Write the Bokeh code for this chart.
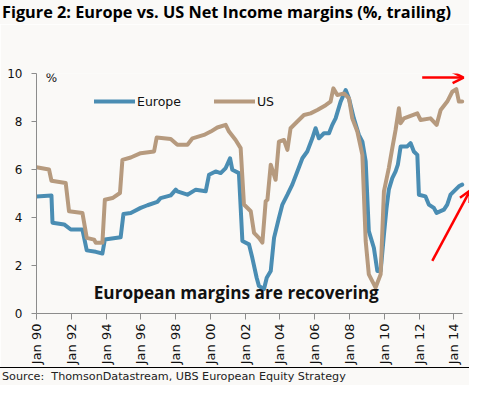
import math
from bokeh.plotting import figure
from bokeh.layouts import column
from bokeh.models import (Range1d, FixedTicker, Label, Legend, LegendItem,
                          Arrow, OpenHead, Div)
from bokeh.embed import file_html
from bokeh.resources import INLINE

# ---------------- data (decimal years, % margin) ----------------
europe_x = [1990.0, 1990.86, 1990.92, 1991.59, 1991.97, 1992.64, 1992.89, 1993.41, 1993.79,
            1993.93, 1994.84, 1995.0, 1995.42, 1995.99, 1996.38, 1996.95, 1997.14, 1997.72,
            1998.01, 1998.10, 1998.68, 1999.16, 1999.73, 1999.92, 2000.30, 2000.59, 2000.88,
            2001.13, 2001.26, 2001.64, 2001.84, 2002.22, 2002.41, 2002.66, 2002.79, 2003.08,
            2003.24, 2003.47, 2003.66, 2003.94, 2004.14, 2004.43, 2004.71, 2005.00, 2005.29,
            2005.57, 2005.86, 2006.05, 2006.24, 2006.53, 2006.82, 2007.01, 2007.20, 2007.49,
            2007.78, 2007.97, 2008.25, 2008.54, 2008.74, 2008.93, 2009.11, 2009.40, 2009.60,
            2009.79, 2009.98, 2010.13, 2010.26, 2010.46, 2010.65, 2010.78, 2010.94, 2011.32,
            2011.51, 2011.70, 2011.90, 2011.99, 2012.37, 2012.56, 2012.85, 2013.01, 2013.43,
            2013.62, 2013.81, 2014.10, 2014.29, 2014.48]
europe_y = [4.88, 4.92, 3.78, 3.71, 3.50, 3.50, 2.63, 2.57, 2.50,
            3.08, 3.18, 4.15, 4.19, 4.40, 4.51, 4.65, 4.81, 4.92,
            5.16, 5.09, 4.95, 5.16, 5.09, 5.78, 5.92, 5.85, 6.06,
            6.47, 5.99, 5.85, 3.02, 2.88, 2.32, 1.49, 1.15, 1.01,
            1.49, 1.77, 3.15, 3.98, 4.54, 4.95, 5.37, 5.92, 6.47,
            6.75, 7.30, 7.72, 7.30, 7.51, 7.51, 7.86, 8.13, 8.83,
            9.31, 8.96, 8.13, 7.44, 7.16, 6.34, 3.43, 2.74, 1.77,
            1.77, 3.29, 4.40, 5.16, 5.64, 5.92, 6.20, 6.96, 6.96,
            7.10, 6.75, 6.61, 4.95, 4.88, 4.54, 4.40, 4.19, 4.33,
            4.54, 4.95, 5.16, 5.30, 5.37]

us_x = [1990.0, 1990.72, 1990.86, 1991.68, 1991.87, 1992.64, 1992.89, 1993.31, 1993.41,
        1993.79, 1993.93, 1994.37, 1994.80, 1994.94, 1995.42, 1995.99, 1996.76, 1996.91,
        1997.72, 1998.10, 1998.68, 1998.97, 1999.63, 2000.02, 2000.40, 2000.88, 2001.07,
        2001.45, 2001.74, 2001.93, 2002.32, 2002.51, 2002.79, 2002.99, 2003.18, 2003.28,
        2003.47, 2003.75, 2003.94, 2004.23, 2004.43, 2004.61, 2005.00, 2005.38, 2005.76,
        2006.15, 2006.63, 2006.91, 2007.07, 2007.30, 2007.68, 2007.97, 2008.16, 2008.45,
        2008.74, 2008.93, 2009.11, 2009.50, 2009.79, 2009.98, 2010.26, 2010.46, 2010.65,
        2010.84, 2010.94, 2011.13, 2011.90, 2012.09, 2012.66, 2013.01, 2013.24, 2013.62,
        2013.91, 2014.14, 2014.29, 2014.48]
us_y = [6.09, 6.00, 5.53, 5.44, 4.26, 4.19, 3.15, 3.08, 2.95,
        2.95, 4.74, 4.81, 5.02, 6.40, 6.50, 6.68, 6.75, 7.33,
        7.27, 7.03, 7.03, 7.30, 7.44, 7.58, 7.75, 7.86, 7.58,
        7.23, 6.89, 4.54, 4.26, 3.36, 3.15, 2.95, 4.68, 4.74,
        6.20, 5.57, 7.16, 7.23, 6.82, 7.72, 8.00, 8.27, 8.34,
        8.48, 8.68, 8.83, 9.38, 9.10, 9.17, 8.96, 8.13, 7.58,
        6.61, 3.02, 1.63, 1.08, 1.63, 5.09, 6.06, 6.89, 7.65,
        8.55, 7.93, 8.13, 8.34, 8.06, 8.13, 7.86, 8.48, 8.83,
        9.24, 9.35, 8.83, 8.83]

x_ticks = [1990, 1992, 1994, 1996, 1998, 2000, 2002, 2004, 2006, 2008, 2010, 2012, 2014]
x_tick_labels = ["Jan 90", "Jan 92", "Jan 94", "Jan 96", "Jan 98", "Jan 00", "Jan 02",
                 "Jan 04", "Jan 06", "Jan 08", "Jan 10", "Jan 12", "Jan 14"]
y_ticks = [0, 2, 4, 6, 8, 10]

# annotation arrows: (x_start, y_start, x_end, y_end)
arrow_flat = [2012.18, 9.83, 2014.56, 9.83]
arrow_up = [2012.76, 2.19, 2014.93, 5.12]

TITLE = "Figure 2: Europe vs. US Net Income margins (%, trailing)"
SOURCE = "Source:&nbsp;&nbsp;ThomsonDatastream, UBS European Equity Strategy"
NOTE = "European margins are recovering"

BG = "#FAF9F7"
BLUE = "#4A8DB3"
TAN = "#B69A7E"
W = 469

title_div = Div(text=TITLE, width=W, height=24, margin=0,
                styles={"background-color": BG, "font-family": "Open Sans",
                        "font-weight": "bold", "font-size": "16.3px", "color": "#000000",
                        "line-height": "24px", "padding-left": "2px", "height": "24px",
                        "white-space": "nowrap", "width": f"{W}px", "box-sizing": "border-box"})

p = figure(width=W, height=343, output_backend="svg", toolbar_location=None, title=None,
           x_range=Range1d(1990, 2014.9), y_range=Range1d(0, 10),
           min_border_left=36, min_border_right=0, min_border_top=49, min_border_bottom=54,
           background_fill_color=BG, border_fill_color=BG, outline_line_color=None)
p.grid.visible = False

r_eu = p.line(europe_x, europe_y, line_color=BLUE, line_width=4, line_join="round", line_cap="round")
r_us = p.line(us_x, us_y, line_color=TAN, line_width=4, line_join="round", line_cap="round")

# axes
xa = p.xaxis[0]
xa.bounds = (1990, 2014.48)
xa.ticker = FixedTicker(ticks=x_ticks)
xa.major_label_overrides = {t: l for t, l in zip(x_ticks, x_tick_labels)}
xa.major_label_orientation = math.pi / 2
xa.major_label_text_font = "DejaVu Sans"
xa.major_label_text_font_size = "13px"
xa.major_label_text_color = "#111111"
xa.major_label_standoff = 4
xa.major_tick_out = 6
xa.major_tick_in = 0
xa.minor_tick_out = 0
xa.minor_tick_in = 0
xa.axis_line_color = "#8C8C8C"
xa.major_tick_line_color = "#8C8C8C"

ya = p.yaxis[0]
ya.ticker = FixedTicker(ticks=y_ticks)
ya.major_label_text_font = "DejaVu Sans"
ya.major_label_text_font_size = "12px"
ya.major_label_text_color = "#111111"
ya.major_label_standoff = 9
ya.major_tick_out = 5
ya.major_tick_in = 0
ya.minor_tick_out = 0
ya.minor_tick_in = 0
ya.axis_line_color = "#8C8C8C"
ya.major_tick_line_color = "#8C8C8C"

# legend
leg = Legend(items=[LegendItem(label="Europe", renderers=[r_eu]),
                    LegendItem(label="US", renderers=[r_us])],
             orientation="horizontal", location=(58, 204),
             glyph_width=41, glyph_height=16, label_height=16, label_standoff=2,
             spacing=33, padding=0, margin=0,
             background_fill_alpha=0, border_line_alpha=0,
             label_text_font="DejaVu Sans", label_text_font_size="12.5px",
             label_text_color="#111111")
p.add_layout(leg, "center")

# text annotations
p.add_layout(Label(x=1990.53, y=9.83, text="%", text_baseline="middle",
                   text_font="DejaVu Sans", text_font_size="12px", text_color="#111111"))
p.add_layout(Label(x=1993.29, y=0.39, text=NOTE,
                   text_font="Open Sans", text_font_style="bold", text_font_size="17.2px",
                   text_color="#111111"))

# red arrows
for a in (arrow_flat, arrow_up):
    p.add_layout(Arrow(x_start=a[0], y_start=a[1], x_end=a[2], y_end=a[3],
                       line_color="#FF0000", line_width=2.5,
                       end=OpenHead(size=11, line_color="#FF0000", line_width=2.5)))

footer_div = Div(text=SOURCE, width=W, height=18, margin=0,
                 styles={"background-color": BG, "font-family": "DejaVu Sans",
                         "font-size": "11.2px", "color": "#222222",
                         "border-top": "1px solid #000000", "line-height": "14px",
                         "padding-top": "2px", "padding-left": "2px",
                         "white-space": "nowrap", "width": f"{W}px", "height": "18px",
                         "box-sizing": "border-box"})

layout = column(title_div, p, footer_div, spacing=0, margin=0)

open("out.html", "w").write(file_html(layout, INLINE))
